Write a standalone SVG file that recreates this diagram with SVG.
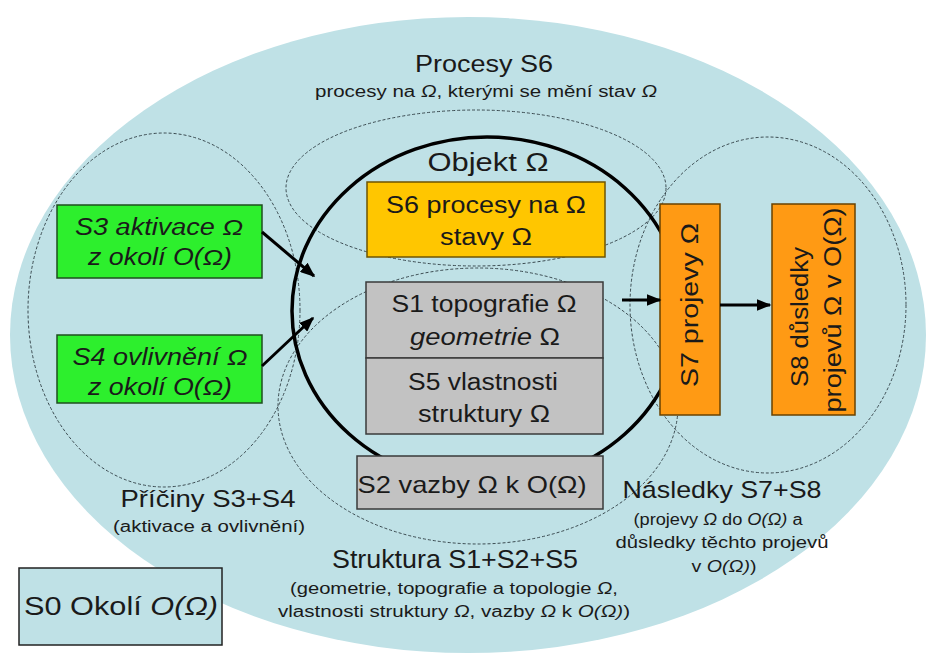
<svg xmlns="http://www.w3.org/2000/svg" width="928" height="660" viewBox="0 0 928 660">
<defs>
<style>
text{font-family:"Liberation Sans",Arial,sans-serif;fill:#1a1a1a;text-anchor:middle}
.dash{fill:none;stroke:#3a4a50;stroke-width:1;stroke-dasharray:3 2}
.box{stroke-width:1.5}
.green{fill:#2def2d;stroke:#1f4f1f}
.yellow{fill:#ffc600;stroke:#6f5400}
.gray{fill:#c2c2c2;stroke:#3a3a3a}
.orange{fill:#ff9a14;stroke:#6a4200}
.conn{stroke:#000;stroke-width:3;fill:none;marker-end:url(#ah)}
.it{font-style:italic}
</style>
<marker id="ah" viewBox="0 0 10 8" refX="9" refY="4" markerWidth="5" markerHeight="4" orient="auto" markerUnits="strokeWidth">
<path d="M0,0 L10,4 L0,8 z" fill="#000"/>
</marker>
</defs>
<rect width="928" height="660" fill="#ffffff"/>
<g id="okoli-bg">
<ellipse cx="468" cy="335" rx="458" ry="318" fill="#bfe1e6"/>
</g>
<g id="zones">
<ellipse class="dash" cx="164" cy="310" rx="136" ry="177"/>
<ellipse class="dash" cx="476" cy="188" rx="190" ry="78"/>
<ellipse class="dash" cx="478" cy="406" rx="200" ry="138"/>
<ellipse class="dash" cx="768" cy="305" rx="138" ry="168"/>
</g>
<g id="objekt">
<ellipse cx="487" cy="311" rx="195" ry="174" fill="none" stroke="#000" stroke-width="3.5"/>
<text x="488" y="171" font-size="25" textLength="121" lengthAdjust="spacingAndGlyphs">Objekt Ω</text>
</g>
<g id="title">
<text x="484" y="72" font-size="24" textLength="138" lengthAdjust="spacingAndGlyphs">Procesy S6</text>
<text x="486" y="97" font-size="16" textLength="342" lengthAdjust="spacingAndGlyphs">procesy na <tspan class="it">Ω</tspan>, kterými se mění stav <tspan class="it">Ω</tspan></text>
</g>
<g id="S3">
<rect class="box green" x="57" y="205" width="205" height="73"/>
<text class="it" x="159" y="235" font-size="23" textLength="168" lengthAdjust="spacingAndGlyphs">S3 aktivace Ω</text>
<text class="it" x="160" y="265" font-size="23" textLength="144" lengthAdjust="spacingAndGlyphs">z okolí O(Ω)</text>
</g>
<g id="S4">
<rect class="box green" x="57" y="335" width="205" height="68"/>
<text class="it" x="160" y="365" font-size="23" textLength="175" lengthAdjust="spacingAndGlyphs">S4 ovlivnění Ω</text>
<text class="it" x="160" y="395" font-size="23" textLength="144" lengthAdjust="spacingAndGlyphs">z okolí O(Ω)</text>
</g>
<g id="S6">
<rect class="box yellow" x="367" y="182" width="238" height="75"/>
<text x="486" y="213" font-size="23" textLength="200" lengthAdjust="spacingAndGlyphs">S6 procesy na Ω</text>
<text x="486" y="245" font-size="23" textLength="92" lengthAdjust="spacingAndGlyphs">stavy Ω</text>
</g>
<g id="S1">
<rect class="box gray" x="366" y="282" width="237" height="76"/>
<text x="484" y="312" font-size="23" textLength="185" lengthAdjust="spacingAndGlyphs">S1 topografie Ω</text>
<text x="485" y="345" font-size="23" textLength="150" lengthAdjust="spacingAndGlyphs"><tspan class="it">geometrie</tspan> Ω</text>
</g>
<g id="S5">
<rect class="box gray" x="366" y="358" width="237" height="76"/>
<text x="483" y="390" font-size="23" textLength="150" lengthAdjust="spacingAndGlyphs">S5 vlastnosti</text>
<text x="484" y="422" font-size="23" textLength="132" lengthAdjust="spacingAndGlyphs">struktury Ω</text>
</g>
<g id="S2">
<rect class="box gray" x="357" y="456" width="246" height="53"/>
<text x="472" y="493" font-size="24" textLength="229" lengthAdjust="spacingAndGlyphs">S2 vazby Ω k O(Ω)</text>
</g>
<g id="S7">
<rect class="box orange" x="660" y="204" width="60" height="211"/>
<text transform="translate(698,305) rotate(-90)" x="0" y="0" font-size="23" textLength="164" lengthAdjust="spacingAndGlyphs">S7 projevy Ω</text>
</g>
<g id="S8">
<rect class="box orange" x="772" y="204" width="83" height="211"/>
<text transform="translate(808,317) rotate(-90)" x="0" y="0" font-size="23" textLength="140" lengthAdjust="spacingAndGlyphs">S8 důsledky</text>
<text transform="translate(841,310) rotate(-90)" x="0" y="0" font-size="23" textLength="205" lengthAdjust="spacingAndGlyphs">projevů Ω v O(Ω)</text>
</g>
<g id="S0">
<rect x="19" y="568" width="203" height="77" fill="#bfe1e6" stroke="#222" stroke-width="1.5"/>
<text x="121" y="615" font-size="26" textLength="194" lengthAdjust="spacingAndGlyphs">S0 Okolí <tspan class="it">O(Ω)</tspan></text>
</g>
<g id="labels">
<text x="208" y="507" font-size="24" textLength="175" lengthAdjust="spacingAndGlyphs">Příčiny S3+S4</text>
<text x="209" y="532" font-size="16" textLength="192" lengthAdjust="spacingAndGlyphs">(aktivace a ovlivnění)</text>
<text x="455" y="568" font-size="25" textLength="246" lengthAdjust="spacingAndGlyphs">Struktura S1+S2+S5</text>
<text x="454" y="594" font-size="16" textLength="328" lengthAdjust="spacingAndGlyphs">(geometrie, topografie a topologie <tspan class="it">Ω</tspan>,</text>
<text x="454" y="617" font-size="16" textLength="352" lengthAdjust="spacingAndGlyphs">vlastnosti struktury <tspan class="it">Ω</tspan>, vazby <tspan class="it">Ω</tspan> k <tspan class="it">O(Ω)</tspan>)</text>
<text x="722" y="498" font-size="24" textLength="199" lengthAdjust="spacingAndGlyphs">Následky S7+S8</text>
<text x="718" y="525" font-size="16" textLength="169" lengthAdjust="spacingAndGlyphs">(projevy <tspan class="it">Ω</tspan> do <tspan class="it">O(Ω)</tspan> a</text>
<text x="722" y="548" font-size="16" textLength="213" lengthAdjust="spacingAndGlyphs">důsledky těchto projevů</text>
<text x="724" y="572" font-size="16" textLength="65" lengthAdjust="spacingAndGlyphs">v <tspan class="it">O(Ω)</tspan>)</text>
</g>
<g id="connectors">
<line class="conn" x1="262" y1="232" x2="314" y2="276"/>
<line class="conn" x1="262" y1="366" x2="313" y2="318"/>
<line class="conn" x1="622" y1="300" x2="660" y2="300"/>
<line class="conn" x1="720" y1="305" x2="770" y2="305"/>
</g>
</svg>
